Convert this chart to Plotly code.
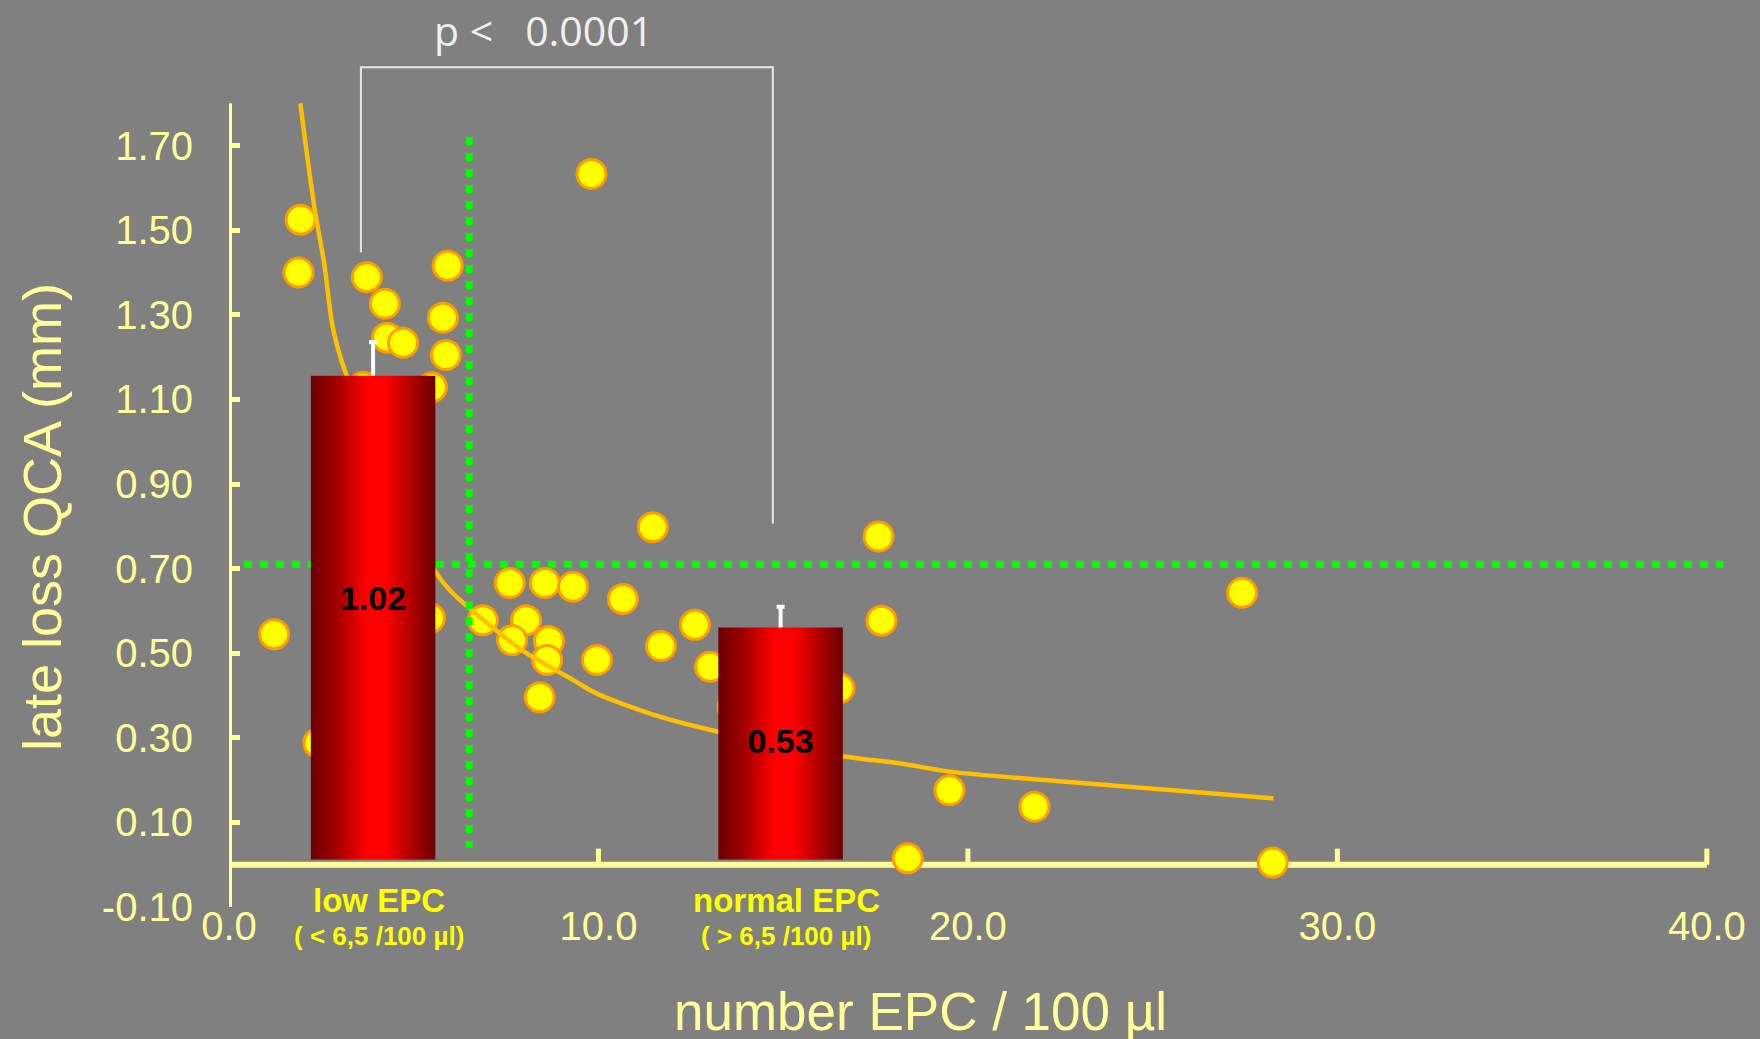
import plotly.graph_objects as go

# ---------------------------------------------------------------------------
# Data
# ---------------------------------------------------------------------------
# Individual patients: circulating EPC count (/100 µl) vs. late loss by QCA (mm)
epc_count = [1.22, 1.94, 1.88, 3.73, 4.22, 4.28, 4.71, 5.92, 5.79, 5.87,
             5.49, 3.63, 5.44, 2.42, 6.87, 7.60, 8.55, 9.31, 8.04, 7.66,
             8.66, 8.61, 8.41, 9.96, 9.81, 11.47, 10.66, 11.69, 12.61, 13.02,
             13.63, 16.52, 17.58, 17.66, 18.37, 19.50, 21.80, 27.42, 28.25]
late_loss = [0.545, 1.525, 1.400, 1.389, 1.326, 1.246, 1.234, 1.416, 1.293, 1.205,
             1.129, 1.130, 0.583, 0.288, 0.578, 0.666, 0.666, 0.657, 0.578, 0.531,
             0.529, 0.484, 0.396, 0.484, 1.633, 0.798, 0.628, 0.517, 0.567, 0.468,
             0.373, 0.417, 0.776, 0.577, 0.015, 0.176, 0.137, 0.643, 0.005]

# Power-law trend line (points along the fitted curve)
trend_x = [1.93, 2.30, 2.58, 2.81, 3.18, 5.59, 5.98, 6.88, 8.05, 9.31,
           9.94, 11.66, 13.21, 16.65, 18.13, 19.50, 23.08, 28.27]
trend_y = [1.800, 1.560, 1.420, 1.270, 1.157, 0.693, 0.649, 0.579, 0.500, 0.437,
           0.405, 0.350, 0.315, 0.256, 0.240, 0.220, 0.193, 0.157]

# Group means (late loss, mm) with SEM
groups = ["low EPC", "normal EPC"]
group_ranges = ["( < 6,5 /100 µl)", "( > 6,5 /100 µl)"]
group_mean = [1.02, 0.53]
group_sem = [0.065, 0.04]

# Cut-offs
cutoff_epc = 6.5
cutoff_loss = 0.71

p_text = "p <\u00a0\u00a0 0.0001"

x_ticks = [0, 10, 20, 30, 40]
y_ticks = [-0.10, 0.10, 0.30, 0.50, 0.70, 0.90, 1.10, 1.30, 1.50, 1.70]

# ---------------------------------------------------------------------------
# Styling / geometry
# ---------------------------------------------------------------------------
BG = "#808080"
AXIS = "#ffff99"
GREEN = "#00ff00"
SANS = "Liberation Sans, Arial, sans-serif"

X_RANGE = [0, 40.6]
Y_RANGE = [-0.10, 1.90]
Y_LINE_TOP = 1.80

# The group bars sit on their own (hidden) value axis:
# position on the late-loss axis = BAR_SCALE * value + BAR_OFFSET
BAR_SCALE = 1.2143
BAR_OFFSET = -0.0826
Y2_RANGE = [(Y_RANGE[0] - BAR_OFFSET) / BAR_SCALE, (Y_RANGE[1] - BAR_OFFSET) / BAR_SCALE]
BAR_FLOOR = (0.012 - BAR_OFFSET) / BAR_SCALE
BAR_X = [3.9, 14.93]
BAR_W = 3.37
LABEL_DX = 0.15
RED_SCALE = [[0.0, "#6a0000"], [0.2, "#a00000"], [0.45, "#ff0000"],
             [0.6, "#ff0000"], [0.85, "#a00000"], [1.0, "#6a0000"]]

fig = go.Figure()

# Scatter of individual patients
fig.add_trace(go.Scatter(
    x=epc_count, y=late_loss, mode="markers",
    marker=dict(size=29, color="#ffff00", line=dict(color="#ff9c00", width=3)),
    showlegend=False, hoverinfo="skip",
))

# Trend curve
fig.add_trace(go.Scatter(
    x=trend_x, y=trend_y, mode="lines",
    line=dict(color="#ffc000", width=4.5, shape="spline", smoothing=0.8),
    showlegend=False, hoverinfo="skip",
))

# Cut-off lines (dotted green)
fig.add_trace(go.Scatter(
    x=[0.4, 40.45], y=[cutoff_loss, cutoff_loss], mode="lines",
    line=dict(color=GREEN, width=7, dash="8px,8px"),
    showlegend=False, hoverinfo="skip",
))
fig.add_trace(go.Scatter(
    x=[cutoff_epc, cutoff_epc], y=[1.72, 0.04], mode="lines",
    line=dict(color=GREEN, width=7, dash="8px,8px"),
    showlegend=False, hoverinfo="skip",
))

# SEM whiskers (the lower half is hidden by the bars drawn next)
fig.add_trace(go.Scatter(
    x=BAR_X, y=group_mean, mode="markers",
    marker=dict(size=1, color="rgba(0,0,0,0)"),
    error_y=dict(type="data", symmetric=True, array=group_sem,
                 color="#ffffff", thickness=4, width=4),
    yaxis="y2", showlegend=False, hoverinfo="skip",
))

# Group bars with a horizontal cylinder-like gradient
for xc, v in zip(BAR_X, group_mean):
    x0, x1 = xc - BAR_W / 2, xc + BAR_W / 2
    fig.add_trace(go.Scatter(
        x=[x0, x0, x1, x1, x0], y=[BAR_FLOOR, v, v, BAR_FLOOR, BAR_FLOOR],
        mode="lines", line=dict(width=0, color="rgba(0,0,0,0)"),
        fill="toself",
        fillgradient=dict(type="horizontal", colorscale=RED_SCALE),
        yaxis="y2", showlegend=False, hoverinfo="skip",
    ))

# Mean values printed in the bars
fig.add_trace(go.Scatter(
    x=BAR_X, y=[v * 0.57 for v in group_mean], mode="text",
    text=[f"{v:.2f}" for v in group_mean],
    textfont=dict(family=SANS, size=34, color="#000000", weight="bold"),
    yaxis="y2", showlegend=False, hoverinfo="skip",
))

# Axis lines and x tick marks
shapes = [
    dict(type="line", xref="x", yref="y", x0=0, x1=0, y0=y_ticks[0], y1=Y_LINE_TOP,
         line=dict(color=AXIS, width=6), layer="below"),
    dict(type="line", xref="x", yref="y", x0=0, x1=x_ticks[-1], y0=0, y1=0,
         line=dict(color=AXIS, width=6), layer="below"),
]
for t in x_ticks[1:]:
    shapes.append(dict(type="line", xref="x", yref="y", x0=t, x1=t, y0=0, y1=0.038,
                       line=dict(color=AXIS, width=5), layer="below"))

# Significance bracket between groups
shapes.append(dict(
    type="path", xref="x", yref="y",
    path="M 3.57,1.448 L 3.57,1.885 L 14.72,1.885 L 14.72,0.806",
    line=dict(color="#e8e8e8", width=2), layer="above",
))

annotations = [
    dict(x=0.2097, y=1.037, xref="paper", yref="paper", text=p_text, showarrow=False,
         font=dict(family="Open Sans, sans-serif", size=41, color="#f0f0f0"),
         xanchor="center", yanchor="middle"),
    dict(x=-0.125, y=0.4603, xref="paper", yref="paper", text="late loss QCA (mm)",
         textangle=-90, showarrow=False,
         font=dict(family=SANS, size=54, color=AXIS),
         xanchor="center", yanchor="middle"),
    dict(x=0.4613, y=-0.124, xref="paper", yref="paper", text="number EPC / 100 µl",
         showarrow=False, font=dict(family=SANS, size=53, color=AXIS),
         xanchor="center", yanchor="middle"),
]
for xc, name, rng in zip(BAR_X, groups, group_ranges):
    annotations.append(dict(
        x=xc + LABEL_DX, y=-0.0837, xref="x", yref="y", text=name, showarrow=False,
        font=dict(family=SANS, size=33, color="#ffff00", weight="bold"),
        xanchor="center", yanchor="middle"))
    annotations.append(dict(
        x=xc + LABEL_DX, y=-0.0344, xref="x", yref="paper", text=rng, showarrow=False,
        font=dict(family=SANS, size=26, color="#ffff00", weight="bold"),
        xanchor="center", yanchor="middle"))

fig.update_layout(
    width=1760, height=1039,
    margin=dict(l=229, r=31, t=61, b=132),
    paper_bgcolor=BG, plot_bgcolor=BG,
    showlegend=False,
    xaxis=dict(
        range=X_RANGE, showgrid=False, zeroline=False, showline=False,
        tickvals=x_ticks, ticktext=[f"{t:.1f}" for t in x_ticks],
        ticks="", tickfont=dict(family=SANS, size=40, color=AXIS),
        ticklabelstandoff=-8,
    ),
    yaxis=dict(
        range=Y_RANGE, showgrid=False, zeroline=False, showline=False,
        tickvals=y_ticks, ticktext=[f"{t:.2f}" for t in y_ticks],
        ticks="inside", ticklen=11, tickwidth=5, tickcolor=AXIS,
        tickfont=dict(family=SANS, size=40, color=AXIS),
        ticklabelstandoff=35,
    ),
    yaxis2=dict(range=Y2_RANGE, overlaying="y", visible=False),
    shapes=shapes,
    annotations=annotations,
)

fig.write_html("out.html")
